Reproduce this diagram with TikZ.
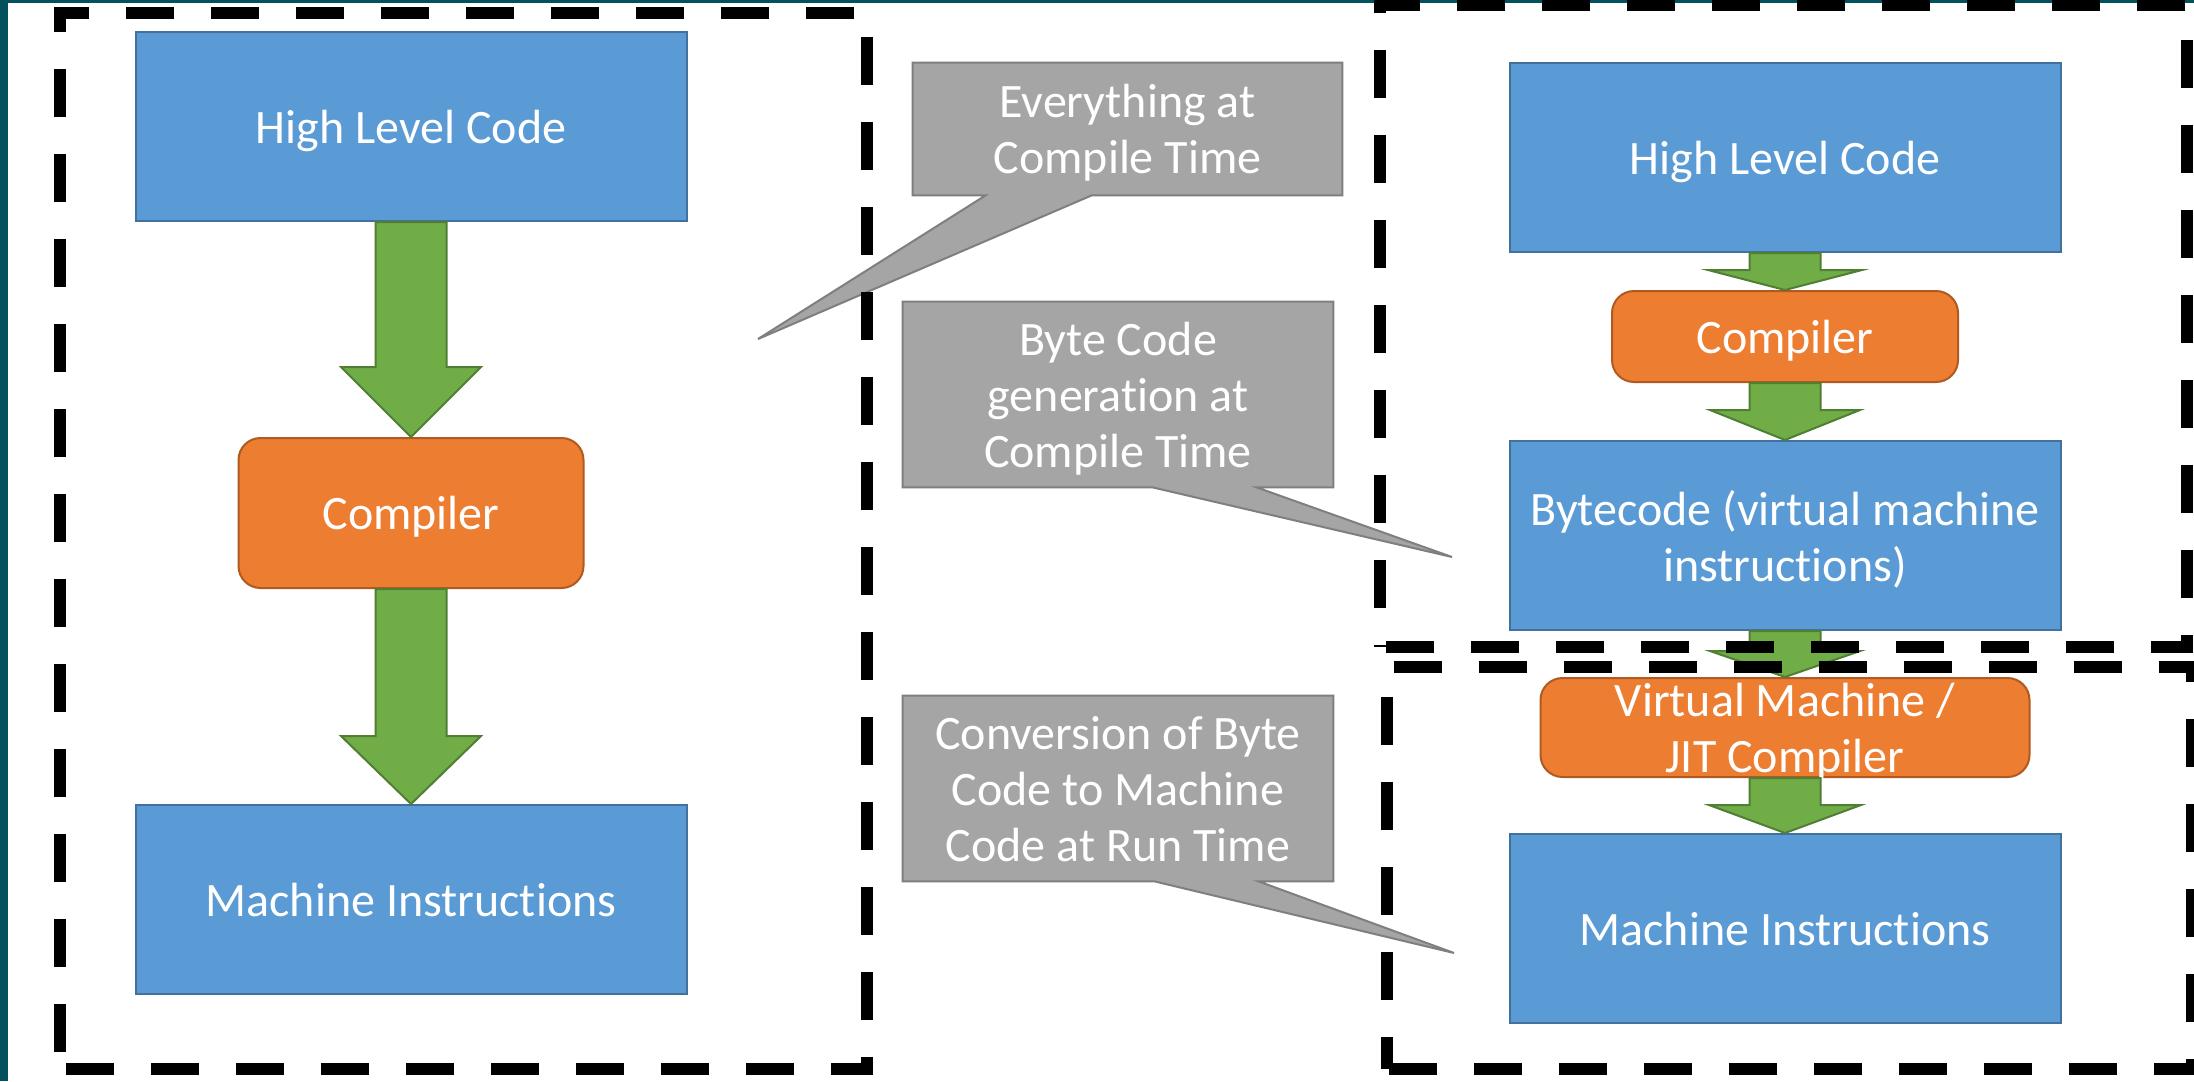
\documentclass[tikz,border=0pt]{standalone}
\usepackage{fontspec}
\setmainfont{Carlito}[Ligatures=NoCommon]
\usetikzlibrary{calc}

\definecolor{boxblue}{HTML}{5B9BD5}
\definecolor{boxblueline}{HTML}{41719C}
\definecolor{comporange}{HTML}{ED7D31}
\definecolor{comporangeline}{HTML}{AE5A21}
\definecolor{flowgreen}{HTML}{70AD47}
\definecolor{flowgreenline}{HTML}{507E32}
\definecolor{notegray}{HTML}{A5A5A5}
\definecolor{notegrayline}{HTML}{7F7F7F}
\definecolor{slideteal}{RGB}{3,81,92}

\pgfdeclarelayer{canvas}
\pgfdeclarelayer{back}
\pgfsetlayers{canvas,back,main}

% block arrow: from, to, head length, head half width
\newcommand\fatarrow[4]{%
  \draw[flowarrow] ($(#1.south)+(-35.5,0)$) -- ($(#2.north)+(-35.5,-#3)$)
    -- ($(#2.north)+(-#4,-#3)$) -- (#2.north) -- ($(#2.north)+(#4,-#3)$)
    -- ($(#2.north)+(35.5,-#3)$) -- ($(#1.south)+(35.5,0)$) -- cycle;}

% callout body with tail: node, tail start, tail end, tip
\newcommand\notetail[4]{%
  \begin{pgfonlayer}{back}
  \draw[notebox] (#1.north west) -- (#1.north east) -- (#1.south east)
    -- ($(#1.south west)+(#3,0)$) -- (#4) -- ($(#1.south west)+(#2,0)$)
    -- (#1.south west) -- cycle;
  \end{pgfonlayer}}

\begin{document}
\begin{tikzpicture}[x=0.5pt, y=-0.5pt,
    every node/.style={font=\fontsize{24pt}{28pt}\selectfont, text=white, inner sep=0pt,
      text depth=0pt, align=center},
    codebox/.style={rectangle, draw=boxblueline, fill=boxblue, line width=1pt,
      minimum width=275.5pt, minimum height=94.5pt},
    compbox/.style={rectangle, rounded corners=11pt, draw=comporangeline, fill=comporange, line width=1pt},
    flowarrow/.style={draw=flowgreenline, fill=flowgreen, line width=1pt},
    notebox/.style={draw=notegrayline, fill=notegray, line width=1pt},
    notetext/.style={minimum width=215pt, minimum height=92.5pt},
    frameline/.style={line width=6pt, dash pattern=on 24pt off 18.5pt}]

    % background
    \useasboundingbox (0,0) rectangle (2194,1081);
    \begin{pgfonlayer}{canvas}
    \fill[white] (0,0) rectangle (2194,1081);
    \fill[slideteal] (0,0) rectangle (8,1081);
    \fill[slideteal] (0,0) rectangle (2194,3);
    \end{pgfonlayer}

    % === Left: compiled straight to machine code ===
    \node[codebox] (hlcL) at (411,126.5) {High Level Code};
    \node[compbox, minimum width=172.5pt, minimum height=75pt] (compL) at (411,513) {Compiler};
    \node[codebox] (miL) at (411,899.5) {Machine Instructions};

    \fatarrow{hlcL}{compL}{70}{70}
    \fatarrow{compL}{miL}{68}{70}

    % === Right: byte code and virtual machine ===
    \node[codebox] (hlcR) at (1785,157.5) {High Level Code};
    \node[compbox, minimum width=173pt, minimum height=45.5pt] (compR) at (1785,336.5) {Compiler};
    \node[codebox] (bcR) at (1785,535.5) {Bytecode (virtual machine\\instructions)};
    \node[compbox, minimum width=244.5pt, minimum height=49.5pt] (jitR) at (1785,727.5) {Virtual Machine /\\JIT Compiler};
    \node[codebox] (miR) at (1785,928.5) {Machine Instructions};

    \fatarrow{hlcR}{compR}{20}{77}
    \fatarrow{compR}{bcR}{30}{75}
    \fatarrow{bcR}{jitR}{26}{75}
    \fatarrow{jitR}{miR}{28}{76}

    % dashed frames
    \draw[frameline, dash phase=34pt] (60,1069) -- (60,13) -- (867,13) -- (867,1069) -- cycle;
    \draw[frameline, dash phase=23pt] (1380,647) -- (1380,5) -- (2187,5) -- (2187,647) -- cycle;
    \draw[frameline, dash phase=8pt] (1387,1069) -- (1387,667) -- (2192,667) -- (2192,1069) -- cycle;

    % callouts
    \coordinate (tipA) at (758,339);
    \coordinate (tipB) at (1452,557);
    \coordinate (tipC) at (1454,953);

    \node[notetext, minimum width=214.5pt, minimum height=66pt] (noteA) at (1127.5,129) {Everything at\\Compile Time};
    \node[notetext] (noteB) at (1118,394.5) {Byte Code\\generation at\\Compile Time};
    \node[notetext] (noteC) at (1118,788.5) {Conversion of Byte\\Code to Machine\\Code at Run Time};

    \notetail{noteA}{73}{179}{tipA}
    \notetail{noteB}{250}{354}{tipB}
    \notetail{noteC}{252}{356}{tipC}

\end{tikzpicture}
\end{document}
